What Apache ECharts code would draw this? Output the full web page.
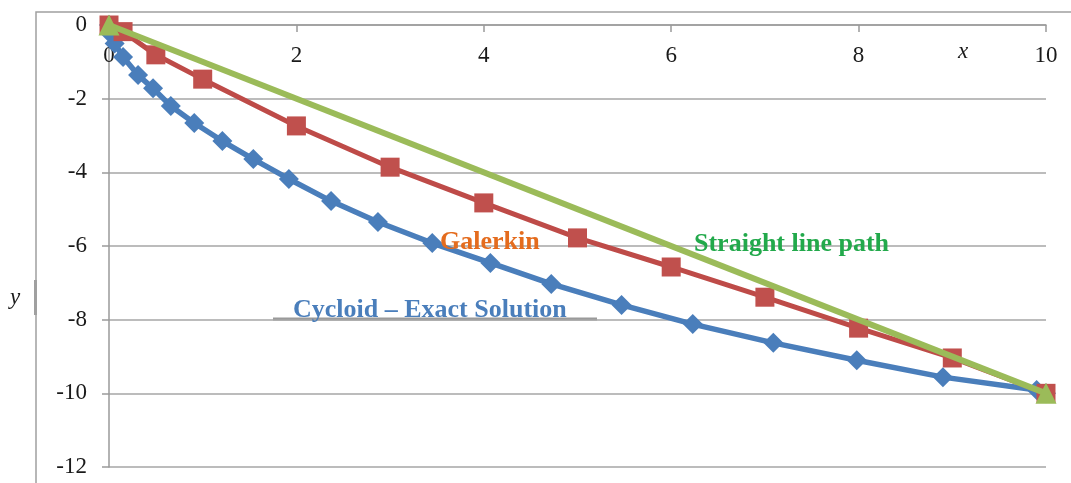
<!DOCTYPE html>
<html>
<head>
<meta charset="utf-8">
<script src="https://cdn.jsdelivr.net/npm/echarts@6/dist/echarts.min.js"></script>
<style>
  html, body { margin: 0; padding: 0; background: #fff; }
  #chart { width: 1071px; height: 483px; }
</style>
</head>
<body>
<div id="chart"></div>
<script>
// 数据
var cycloidX = [0, 0.02, 0.06, 0.15, 0.31, 0.47, 0.66, 0.91, 1.21, 1.54, 1.92, 2.37, 2.87, 3.45, 4.07, 4.72, 5.47, 6.23, 7.09, 7.98, 8.9, 9.9, 10];
var cycloidY = [0, -0.25, -0.5, -0.87, -1.36, -1.72, -2.2, -2.66, -3.15, -3.64, -4.18, -4.78, -5.35, -5.92, -6.46, -7.03, -7.6, -8.12, -8.63, -9.1, -9.56, -9.91, -10];
var galerkinX = [0, 0.15, 0.5, 1, 2, 3, 4, 5, 6, 7, 8, 9, 10];
var galerkinY = [0, -0.18, -0.81, -1.47, -2.74, -3.86, -4.83, -5.78, -6.57, -7.39, -8.23, -9.04, -10];
var straightX = [0, 10];
var straightY = [0, -10];
var xTicks = [0, 2, 4, 6, 8, 10];
var yTicks = [0, -2, -4, -6, -8, -10, -12];

function pairs(xs, ys) {
	var out = [];
	for (var i = 0; i < xs.length; i++) {
		out.push([xs[i], ys[i]]);
	}
	return out;
}

var chart = echarts.init(document.getElementById("chart"));
var serif = "Liberation Serif";

var option = {
	animation: false,
	grid: { left: 109, top: 25, right: 25, bottom: 16, containLabel: false, outerBoundsMode: 'none' },
	xAxis: {
		type: 'value',
		position: 'top',
		min: xTicks[0],
		max: xTicks[xTicks.length - 1],
		interval: 2,
		axisLine: { show: true, onZero: false, lineStyle: { color: '#9a9a9a', width: 1.5 } },
		axisTick: { show: true, inside: true, length: 7, lineStyle: { color: '#9a9a9a', width: 1.5 } },
		axisLabel: { inside: true, color: '#1a1a1a', fontFamily: serif, fontSize: 23, margin: 19 },
		splitLine: { show: false }
	},
	yAxis: {
		type: 'value',
		min: yTicks[yTicks.length - 1],
		max: yTicks[0],
		interval: 2,
		axisLine: { show: true, onZero: false, lineStyle: { color: '#9a9a9a', width: 1.5 } },
		axisTick: { show: true, length: 7, lineStyle: { color: '#9a9a9a', width: 1.5 } },
		axisLabel: { color: '#1a1a1a', fontFamily: serif, fontSize: 23, margin: 22 },
		splitLine: { show: true, lineStyle: { color: '#a6a6a6', width: 1.5 } }
	},
	series: [{
		name: 'Cycloid',
		type: 'line',
		data: pairs(cycloidX, cycloidY),
		symbol: 'diamond',
		symbolSize: 20,
		lineStyle: { color: '#4A7EBB', width: 5.5 },
		itemStyle: { color: '#4A7EBB' },
		z: 2
	}, {
		name: 'Galerkin',
		type: 'line',
		data: pairs(galerkinX, galerkinY),
		symbol: 'rect',
		symbolSize: 19,
		lineStyle: { color: '#BE4B48', width: 5 },
		itemStyle: { color: '#C0504D' },
		z: 3
	}, {
		name: 'Straight',
		type: 'line',
		data: pairs(straightX, straightY),
		symbol: 'triangle',
		symbolSize: 21,
		lineStyle: { color: '#9BBB59', width: 6 },
		itemStyle: { color: '#9BBB59' },
		z: 4
	}],
	graphic: [
		// 外框
		{ type: 'rect', shape: { x: 36, y: 12, width: 1100, height: 520 }, style: { fill: 'none', stroke: '#a0a0a0', lineWidth: 1.5 }, silent: true },
		{ type: 'line', shape: { x1: 35.5, y1: 280, x2: 35.5, y2: 315 }, style: { stroke: '#a0a0a0', lineWidth: 3 } },
		{ type: 'line', shape: { x1: 273, y1: 319, x2: 597, y2: 319 }, style: { stroke: '#9a9a9a', lineWidth: 3 } },
		{ type: 'text', left: 958, top: 40, style: { text: 'x', font: 'italic 23px "Liberation Serif"', fill: '#1a1a1a' } },
		{ type: 'text', left: 10, top: 286, style: { text: 'y', font: 'italic 23px "Liberation Serif"', fill: '#1a1a1a' } },
		{ type: 'text', left: 440, top: 229, z: 10, style: { text: 'Galerkin', font: 'bold 26px "Liberation Serif"', fill: '#E46C1E' } },
		{ type: 'text', left: 694, top: 231, z: 10, style: { text: 'Straight line path', font: 'bold 26px "Liberation Serif"', fill: '#22A94B' } },
		{ type: 'text', left: 293, top: 297, z: 10, style: { text: 'Cycloid \u2013 Exact Solution', font: 'bold 26px "Liberation Serif"', fill: '#4A7EBB' } }
	]
};

chart.setOption(option);
</script>
</body>
</html>
